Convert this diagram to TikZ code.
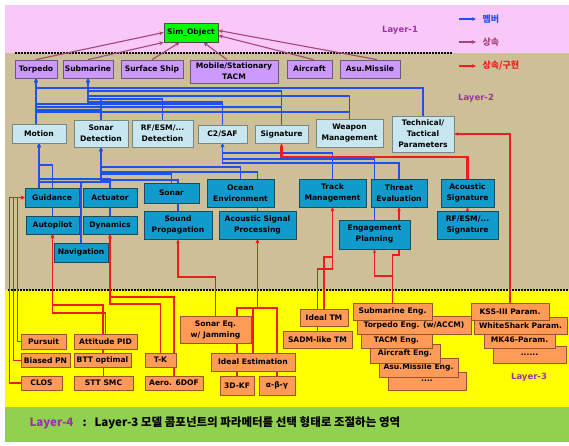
\documentclass[tikz,border=0pt]{standalone}
\usepackage{fontspec}
\setmainfont{DejaVu Sans}
\newfontfamily\krfont{Noto Sans CJK KR}
\usetikzlibrary{arrows.meta}
\pgfdeclarelayer{bands}
\pgfdeclarelayer{wires}
\pgfsetlayers{bands,wires,main}

\definecolor{pinkband}{HTML}{FAC8F8}
\definecolor{tanband}{HTML}{CDBF98}
\definecolor{yellowband}{HTML}{FFFF00}
\definecolor{greenband}{HTML}{92D050}
\definecolor{simgreen}{HTML}{00FF00}
\definecolor{violetbox}{HTML}{CC99FF}
\definecolor{violetedge}{HTML}{6A5A78}
\definecolor{lightbox}{HTML}{C8E6F0}
\definecolor{lightedge}{HTML}{7A8686}
\definecolor{compbox}{HTML}{119ACC}
\definecolor{compedge}{HTML}{1E4A5C}
\definecolor{orangebox}{HTML}{FF9A57}
\definecolor{orangeedge}{HTML}{94562A}
\definecolor{memberblue}{HTML}{2050F0}
\definecolor{inheritcol}{HTML}{A3467A}
\definecolor{implred}{HTML}{EE1C1C}
\definecolor{layerpurple}{HTML}{9B32A6}

\tikzset{
  box/.style={draw, line width=0.8pt, inner sep=0pt, align=center,
    font=\fontsize{7.6}{11}\selectfont\bfseries},
  simbox/.style={box, fill=simgreen, draw=black!70},
  pbox/.style={box, fill=violetbox, draw=violetedge},
  lbox/.style={box, fill=lightbox, draw=lightedge},
  cbox/.style={box, fill=compbox, draw=compedge},
  obox/.style={box, fill=orangebox, draw=orangeedge},
  member/.style={draw=memberblue, line width=1.2pt, -{Stealth[length=3.8pt,width=3.6pt]}},
  inherit/.style={draw=inheritcol, line width=1.1pt, -{Stealth[length=4.5pt,width=4pt]}},
  impl/.style={draw=implred, line width=1.2pt, -{Stealth[length=3.8pt,width=3.6pt]}},
  dots/.style={draw=black, line width=1.6pt, dash pattern=on 1.5pt off 1.5pt},
  layerlbl/.style={text=layerpurple, font=\fontsize{8.5}{10}\selectfont\bfseries},
  krtext/.style={font=\krfont\fontsize{9}{10}\selectfont\bfseries},
  foot/.style={font=\krfont\fontsize{11.5}{13}\selectfont\bfseries},
}

\begin{document}
\begin{tikzpicture}[x=1pt,y=-1pt]
\useasboundingbox (0,0) rectangle (569,446);

% ---------- layer bands ----------
\begin{pgfonlayer}{bands}
  \fill[white] (0,0) rectangle (569,446);
  \fill[pinkband] (5,5) rectangle (569,53);
  \fill[tanband] (5,53) rectangle (569,290);
  \fill[yellowband] (5,290) rectangle (569,407);
  \fill[greenband] (5,407) rectangle (569,442);
  \draw[dots] (15,53) -- (453,53);
  \draw[dots] (8,290) -- (569,290);
\end{pgfonlayer}

% ---------- layer labels and legend ----------
\node[layerlbl] (lay1) at (400,30) {Layer-1};
\node[layerlbl] (lay2) at (476,98) {Layer-2};
\node[layerlbl] (lay3) at (529,377) {Layer-3};

\coordinate (lgb1) at (459,19);  \coordinate (lgb2) at (476,19);
\coordinate (lgi1) at (459,42);  \coordinate (lgi2) at (476,42);
\coordinate (lgr1) at (459,66);  \coordinate (lgr2) at (476,66);
\draw[member] (lgb1) -- (lgb2);
\draw[inherit] (lgi1) -- (lgi2);
\draw[impl] (lgr1) -- (lgr2);
\node[krtext, text=memberblue, anchor=west] (lgbt) at (479,19) {멤버};
\node[krtext, text=inheritcol, anchor=west] (lgit) at (479,42) {상속};
\node[krtext, text=implred, anchor=west] (lgrt) at (479,66) {상속/구현};

% ---------- Layer-1 ----------
\node[simbox, minimum width=54, minimum height=19] (sim) at (191,32.5) {Sim\_Object};

% ---------- Layer-2 : simulation objects ----------
\node[pbox, minimum width=42, minimum height=18] (torpedo) at (36,69) {Torpedo};
\node[pbox, minimum width=50, minimum height=18] (submarine) at (88,69) {Submarine};
\node[pbox, minimum width=62, minimum height=18] (surface) at (152,69) {Surface Ship};
\node[pbox, minimum width=88, minimum height=23] (tacm) at (234,71.5) {Mobile/Stationary\\TACM};
\node[pbox, minimum width=45, minimum height=18] (aircraft) at (309.5,69) {Aircraft};
\node[pbox, minimum width=60, minimum height=18] (asu) at (370,69) {Asu.Missile};

% ---------- Layer-2 : functions ----------
\node[lbox, minimum width=54, minimum height=19] (motion) at (39,133.5) {Motion};
\node[lbox, minimum width=54, minimum height=27] (sonardet) at (101,133.5) {Sonar\\Detection};
\node[lbox, minimum width=61, minimum height=27] (rfdet) at (162.5,133.5) {RF/ESM/...\\Detection};
\node[lbox, minimum width=49, minimum height=18] (c2) at (222.5,134) {C2/SAF};
\node[lbox, minimum width=53, minimum height=18] (signature) at (281.5,134) {Signature};
\node[lbox, minimum width=67, minimum height=28] (weapon) at (349.5,133) {Weapon\\Management};
\node[lbox, minimum width=62, minimum height=36] (tech) at (423,134) {Technical/\\Tactical\\Parameters};

% ---------- Layer-2 : components ----------
\node[cbox, minimum width=54, minimum height=19] (guidance) at (52,197.5) {Guidance};
\node[cbox, minimum width=54, minimum height=19] (actuator) at (110,197.5) {Actuator};
\node[cbox, minimum width=55, minimum height=20] (sonar) at (171.5,193) {Sonar};
\node[cbox, minimum width=67, minimum height=28] (ocean) at (240.5,193) {Ocean\\Environment};
\node[cbox, minimum width=53, minimum height=18] (autopilot) at (52.5,225) {Autopilot};
\node[cbox, minimum width=54, minimum height=18] (dynamics) at (110,225) {Dynamics};
\node[cbox, minimum width=54, minimum height=19] (navigation) at (81,252.5) {Navigation};
\node[cbox, minimum width=68, minimum height=28] (soundprop) at (178,225) {Sound\\Propagation};
\node[cbox, minimum width=77, minimum height=28] (acsp) at (257.5,225) {Acoustic Signal\\Processing};
\node[cbox, minimum width=67, minimum height=28] (track) at (332.5,193) {Track\\Management};
\node[cbox, minimum width=56, minimum height=28] (threat) at (399,193) {Threat\\Evaluation};
\node[cbox, minimum width=53, minimum height=28] (acsig) at (467.5,193) {Acoustic\\Signature};
\node[cbox, minimum width=71, minimum height=29] (engplan) at (374.5,234.5) {Engagement\\Planning};
\node[cbox, minimum width=61, minimum height=28] (rfsig) at (467.5,225) {RF/ESM/...\\Signature};

% ---------- Layer-3 : model variants ----------
\node[obox, minimum width=45, minimum height=15] (pursuit) at (43.5,341.5) {Pursuit};
\node[obox, minimum width=63, minimum height=15] (attpid) at (105.5,341.5) {Attitude PID};
\node[obox, minimum width=49, minimum height=14] (biased) at (45.5,360.5) {Biased PN};
\node[obox, minimum width=57, minimum height=14] (btt) at (102.5,360.5) {BTT optimal};
\node[obox, minimum width=31, minimum height=14] (tk) at (160.5,360) {T-K};
\node[obox, minimum width=41, minimum height=14] (clos) at (41.5,383) {CLOS};
\node[obox, minimum width=59, minimum height=14] (stt) at (103.5,383) {STT SMC};
\node[obox, minimum width=58, minimum height=14] (aero) at (174,383) {Aero. 6DOF};
\node[obox, minimum width=71, minimum height=27] (soneq) at (215.5,329.5) {Sonar Eq.\\w/ Jamming};
\node[obox, minimum width=84, minimum height=18] (idealest) at (253,362) {Ideal Estimation};
\node[obox, minimum width=34, minimum height=19] (kf) at (237,385.5) {3D-KF};
\node[obox, minimum width=36, minimum height=19] (abg) at (277,385.5) {α-β-γ};
\node[obox, minimum width=69, minimum height=17] (sadm) at (317.5,339.5) {SADM-like TM};
\node[obox, minimum width=48, minimum height=17] (idealtm) at (324,317.5) {Ideal TM};

% engine stack, drawn back to front
\node[obox, minimum width=78, minimum height=18] (moreeng) at (427,381) {....};
\node[obox, minimum width=79, minimum height=19] (asueng) at (418.5,367.5) {Asu.Missile Eng.};
\node[obox, minimum width=70, minimum height=19] (aireng) at (405,353.5) {Aircraft Eng.};
\node[obox, minimum width=71, minimum height=16] (tacmeng) at (396.5,340) {TACM Eng.};
\node[obox, minimum width=114, minimum height=18] (torpeng) at (414,325) {Torpedo Eng. (w/ACCM)};
\node[obox, minimum width=79, minimum height=17] (subeng) at (392.5,311.5) {Submarine Eng.};

% parameter stack, drawn back to front
\node[obox, minimum width=73, minimum height=17] (moreparam) at (529.5,354.5) {......};
\node[obox, minimum width=71, minimum height=16] (mkparam) at (519.5,340) {MK46-Param.};
\node[obox, minimum width=93, minimum height=17] (wsparam) at (520.5,325.5) {WhiteShark Param.};
\node[obox, minimum width=78, minimum height=17] (kssparam) at (510,311.5) {KSS-III Param.};

% ---------- footer (Layer-4) ----------
\node[foot, anchor=west, text=layerpurple] (lay4) at (26,423) {Layer-4};
\node[foot, anchor=west] (colon) at (79,423) {:};
\node[foot, anchor=west] (lay4txt) at (91,423) {Layer-3 모델 콤포넌트의 파라메터를 선택 형태로 조절하는 영역};

% ---------- connectors ----------
\begin{pgfonlayer}{wires}
  % inheritance to Sim_Object
  \draw[inherit] (torpedo.north) -- (sim.west);
  \draw[inherit] (submarine.north) -- (sim.south west);
  \draw[inherit] (surface.north) -- ([xshift=16pt]sim.south west);
  \draw[inherit] ([xshift=-7pt]tacm.north) -- ([xshift=-15pt]sim.south east);
  \draw[inherit] ([xshift=4pt]aircraft.north) -- ([yshift=-3pt]sim.east);
  \draw[inherit] ([xshift=7pt]asu.north) -- ([yshift=2pt]sim.east);

  % members of Torpedo
  \draw[member] (torpedo.south |- motion.north) -- (torpedo.south);
  \draw[member] (tech.north) |- (torpedo.south |- 0,88) -- (torpedo.south);
  \draw[member] (c2.north) |- (torpedo.south |- 0,104) -- (torpedo.south);
  \draw[member] (signature.north) |- (torpedo.south |- 0,107) -- (torpedo.south);
  \draw[member] (sonardet.north) |- (torpedo.south |- 0,110) -- (torpedo.south);
  \draw[member] (weapon.north) |- (torpedo.south |- 0,112) -- (torpedo.south);

  % members of Submarine
  \draw[member] (signature.north) |- (submarine.south |- 0,91) -- (submarine.south);
  \draw[member] (weapon.north) |- (submarine.south |- 0,96) -- (submarine.south);
  \draw[member] (rfdet.north) |- (submarine.south |- 0,99) -- (submarine.south);
  \draw[member] (sonardet.north) |- (submarine.south |- 0,99) -- (submarine.south);
  \draw[member] (c2.north) |- (submarine.south |- 0,102) -- (submarine.south);

  % members of Motion
  \draw[member] (motion.south |- guidance.north) -- (motion.south);
  \draw[member] (autopilot.north) |- (motion.south |- 0,165) -- (motion.south);
  \draw[member] (actuator.north) |- (motion.south |- 0,179) -- (motion.south);
  \draw[member] (dynamics.north) |- (motion.south |- 0,182) -- (motion.south);
  \draw[member] (navigation.north) |- (motion.south |- 0,182) -- (motion.south);

  % members of Sonar Detection
  \draw[member] (sonar.north) |- (sonardet.south |- 0,174) -- (sonardet.south);
  \draw[member] (soundprop.north) |- (sonardet.south |- 0,180) -- (sonardet.south);
  \draw[member] (ocean.north) |- (sonardet.south |- 0,167) -- (sonardet.south);
  \draw[member] (acsp.north) |- (sonardet.south |- 0,172) -- (sonardet.south);

  % members of C2/SAF
  \draw[member] (track.north) |- (c2.south |- 0,153) -- (c2.south);
  \draw[member] (engplan.north) |- (c2.south |- 0,159) -- (c2.south);
  \draw[member] (threat.north) |- (c2.south |- 0,163) -- (c2.south);

  % implementations of Signature and Technical/Tactical Parameters
  \draw[impl, line width=2.2pt] (acsig.north) |- (signature.south |- 0,157) -- (signature.south);
  \draw[impl] (rfsig.north) -- (acsig.south);
  \draw[impl] (kssparam.north) |- (tech.east);

  % Layer-3 implementations
  \draw[impl] (pursuit.west) -| ([xshift=-7pt]guidance.west) -- (guidance.west);
  \draw[impl] (biased.west) -| ([xshift=-11pt]guidance.west) -- (guidance.west);
  \draw[impl] (clos.west) -| ([xshift=-15pt]guidance.west) -- (guidance.west);
  \draw[impl] (attpid.north) |- (autopilot.south |- 0,313) -- (autopilot.south);
  \draw[impl] (btt.north) |- (autopilot.south |- 0,305) -- (autopilot.south);
  \draw[impl] (stt.north) |- (autopilot.south |- 0,305) -- (autopilot.south);
  \draw[impl] (tk.north) |- (dynamics.south |- 0,304) -- (dynamics.south);
  \draw[impl] (aero.north) |- (dynamics.south |- 0,297) -- (dynamics.south);
  \draw[impl] (soneq.north) |- (soundprop.south |- 0,277) -- (soundprop.south);
  \draw[impl] (idealest.north) |- (acsp.south |- 0,308) -- (acsp.south);
  \draw[impl] (kf.north) |- (acsp.south |- 0,308) -- (acsp.south);
  \draw[impl] (abg.north) |- (acsp.south |- 0,308) -- (acsp.south);
  \draw[impl] (idealtm.north) |- (track.south |- 0,257) -- (track.south);
  \draw[impl] (sadm.north) |- (track.south |- 0,269) -- (track.south);
  \draw[impl] (subeng.north) |- (engplan.south |- 0,276) -- (engplan.south);
  \draw[impl] (subeng.north) |- (threat.south |- 0,255) -- (threat.south);
\end{pgfonlayer}
\end{tikzpicture}
\end{document}
